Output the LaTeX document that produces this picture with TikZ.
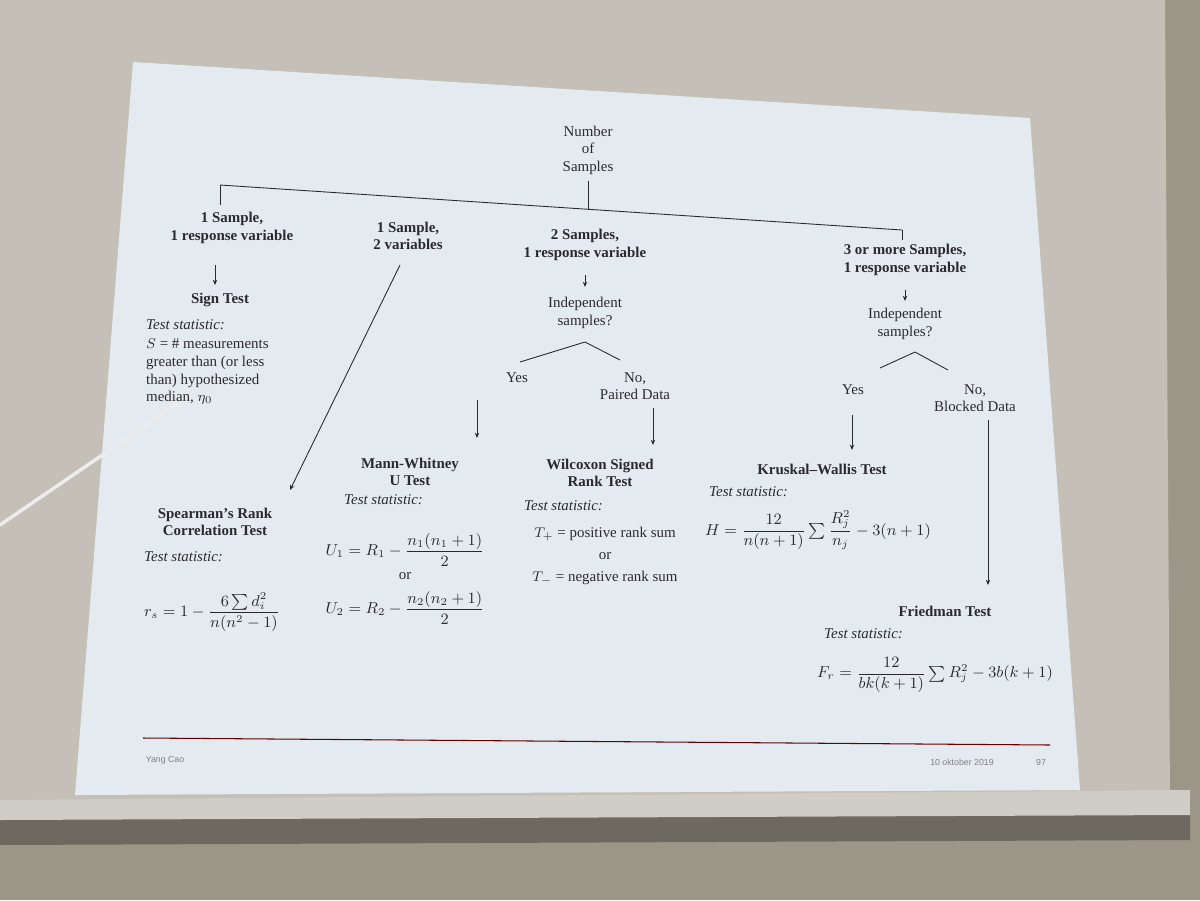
\documentclass[tikz,border=0pt]{standalone}
\usepackage{amsmath}
\usepackage{fontspec}
\setmainfont{Liberation Serif}
\newfontfamily\footfont{Liberation Sans}
\usetikzlibrary{arrows.meta}
\definecolor{wall}{HTML}{9C9689}
\definecolor{screen}{HTML}{C4C0B8}
\definecolor{slide}{HTML}{E4EBF0}
\definecolor{ink}{HTML}{2A2A2E}
\tikzset{
  hd/.style={font=\fontsize{8.5}{10}\selectfont\bfseries, align=center, text=ink},
  tx/.style={font=\fontsize{8.5}{10}\selectfont, align=center, text=ink},
  ts/.style={font=\fontsize{8.5}{10}\selectfont\itshape, text=ink, anchor=west},
  fm/.style={font=\fontsize{9}{10}\selectfont, text=ink, inner sep=0pt},
  ln/.style={draw=ink, line width=0.5pt},
  ar/.style={ln, -{Stealth[length=3pt,width=2.5pt]}},
  ft/.style={font=\fontsize{5}{6}\selectfont\footfont, text=gray},
}
\begin{document}
\begin{tikzpicture}[x=0.02cm,y=-0.02cm]
\useasboundingbox (0,0) rectangle (1200,900);
\fill[wall] (0,0) rectangle (1200,900);
\fill[screen] (0,0) -- (1165,0) -- (1170,805) -- (0,810) -- cycle;
\fill[wall!70!black] (0,805) -- (1190,795) -- (1190,840) -- (0,845) -- cycle;
\fill[screen!80!white] (0,800) -- (1190,790) -- (1190,815) -- (0,820) -- cycle;
\fill[slide] (133,62) -- (1030,118) -- (1080,790) -- (75,795) -- cycle;
\draw[white!85!gray, line width=2pt] (0,525) -- (190,395);

\node[tx] (root) at (588,150) {Number\\of\\Samples};
\coordinate (l1) at (220,185);
\coordinate (r1) at (902,230);
\draw[ln] (root.south) -- (588,210);
\draw[ln] (l1) -- (r1);
\draw[ln] (l1) -- (220,205);
\draw[ln] (r1) -- (902,240);

\node[hd] (a) at (232,228) {1 Sample,\\1 response variable};
\node[hd] (b) at (408,236) {1 Sample,\\2 variables};
\node[hd] (c) at (585,245) {2 Samples,\\1 response variable};
\node[hd] (d) at (905,260) {3 or more Samples,\\1 response variable};

% sign test
\coordinate (a1) at (215,265);
\coordinate (a2) at (215,285);
\draw[ar] (a1) -- (a2);
\node[hd] (sign) at (220,300) {Sign Test};
\node[ts] at (140,325) {Test statistic:};
\node[tx, anchor=north west, align=left] (signt) at (140,333) {$S$ = \# measurements\\greater than (or less\\than) hypothesized\\median, $\eta_0$};

% spearman
\coordinate (b1) at (400,265);
\coordinate (b2) at (290,490);
\draw[ar] (b1) -- (b2);
\node[hd] (sp) at (215,522) {Spearman's Rank\\Correlation Test};
\node[ts] at (138,557) {Test statistic:};
\node[fm] at (212,612) {$r_s = 1 - \dfrac{6\sum d_i^2}{n(n^2-1)}$};

% 2 samples
\coordinate (c1) at (585,275);
\coordinate (c2) at (585,287);
\draw[ar] (c1) -- (c2);
\node[tx] (ind1) at (585,313) {Independent\\samples?};
\draw[ln] (520,362) -- (585,342) -- (620,360);
\node[tx] (yes1) at (517,378) {Yes};
\node[tx] (no1) at (635,386) {No,\\Paired Data};
\coordinate (y1a) at (477,400); \coordinate (y1b) at (477,438);
\draw[ar] (y1a) -- (y1b);
\coordinate (n1a) at (653,408); \coordinate (n1b) at (653,445);
\draw[ar] (n1a) -- (n1b);

\node[hd] (mw) at (410,472) {Mann-Whitney\\U Test};
\node[ts] at (338,500) {Test statistic:};
\node[fm] at (405,550) {$U_1 = R_1 - \dfrac{n_1(n_1+1)}{2}$};
\node[tx] at (405,576) {or};
\node[fm] at (405,608) {$U_2 = R_2 - \dfrac{n_2(n_2+1)}{2}$};

\node[hd] (wil) at (600,473) {Wilcoxon Signed\\Rank Test};
\node[ts] at (518,506) {Test statistic:};
\node[tx] at (605,534) {$T_+$ = positive rank sum};
\node[tx] at (605,556) {or};
\node[tx] at (605,578) {$T_-$ = negative rank sum};

% 3 or more
\coordinate (d1) at (905,290);
\coordinate (d2) at (905,301);
\draw[ar] (d1) -- (d2);
\node[tx] (ind2) at (905,324) {Independent\\samples?};
\draw[ln] (880,368) -- (915,352) -- (948,370);
\node[tx] (yes2) at (853,390) {Yes};
\node[tx] (no2) at (975,398) {No,\\Blocked Data};
\coordinate (y2a) at (852,415); \coordinate (y2b) at (852,450);
\draw[ar] (y2a) -- (y2b);
\coordinate (n2a) at (988,420); \coordinate (n2b) at (988,585);
\draw[ar] (n2a) -- (n2b);

\node[hd] (kw) at (822,469) {Kruskal--Wallis Test};
\node[ts] at (703,492) {Test statistic:};
\node[fm] at (818,530) {$H = \dfrac{12}{n(n+1)}\sum\dfrac{R_j^2}{n_j} - 3(n+1)$};

\node[hd] (fr) at (945,611) {Friedman Test};
\node[ts] at (818,634) {Test statistic:};
\node[fm] at (935,675) {$F_r = \dfrac{12}{bk(k+1)}\sum R_j^2 - 3b(k+1)$};

% footer
\coordinate (f1) at (143,738); \coordinate (f2) at (1050,745);
\draw[draw=red!40!black, line width=0.6pt] (f1) -- (f2);
\node[ft] at (165,760) {Yang Cao};
\node[ft] at (962,762) {10 oktober 2019};
\node[ft] at (1041,762) {97};
\end{tikzpicture}
\end{document}
